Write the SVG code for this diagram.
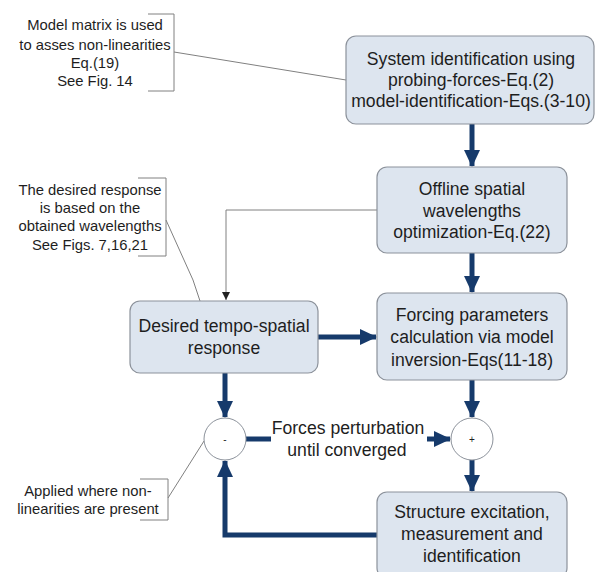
<svg xmlns="http://www.w3.org/2000/svg" width="595" height="572" viewBox="0 0 595 572">
<style>
.box{fill:#dde5ef;stroke:#8c929b;stroke-width:1.2}
.bt{font-family:"Liberation Sans",Arial,sans-serif;font-size:17.6px;fill:#1e1e1e;text-anchor:middle}
.ct{font-family:"Liberation Sans",Arial,sans-serif;font-size:14.8px;fill:#1e1e1e;text-anchor:middle}
.thick{stroke:#163a6b;stroke-width:5;fill:none}
.thin{stroke:#808080;stroke-width:1;fill:none}
.circ{fill:#ffffff;stroke:#8c929b;stroke-width:1}
</style>
<defs>
<marker id="ah" viewBox="0 0 17 16" refX="16" refY="8" markerWidth="17" markerHeight="16" markerUnits="userSpaceOnUse" orient="auto">
<path d="M0,0 L17,8 L0,16 Z" fill="#163a6b"/>
</marker>
<marker id="ta" viewBox="0 0 8 8" refX="8" refY="4" markerWidth="8" markerHeight="8" markerUnits="userSpaceOnUse" orient="auto">
<path d="M0,0 L8,4 L0,8 Z" fill="#222"/>
</marker>
</defs>

<g id="connectors">
<line class="thick" x1="472" y1="124" x2="472" y2="166" marker-end="url(#ah)"/>
<line class="thick" x1="472" y1="253" x2="472" y2="292" marker-end="url(#ah)"/>
<line class="thick" x1="472" y1="380" x2="472" y2="417" marker-end="url(#ah)"/>
<line class="thick" x1="472" y1="460" x2="472" y2="491" marker-end="url(#ah)"/>
<line class="thick" x1="318" y1="337" x2="376" y2="337" marker-end="url(#ah)"/>
<line class="thick" x1="225" y1="373" x2="225" y2="417" marker-end="url(#ah)"/>
<line class="thick" x1="246" y1="439" x2="271" y2="439"/>
<line class="thick" x1="427" y1="439" x2="450" y2="439" marker-end="url(#ah)"/>
<polyline class="thick" points="377,535 225,535 225,461" marker-end="url(#ah)"/>
<polyline class="thin" points="377,210 226,210 226,300" marker-end="url(#ta)"/>
<line class="thin" x1="174" y1="52" x2="346" y2="80"/>
<polyline class="thin" points="166,220 193,280 200,301"/>
<line class="thin" x1="168" y1="498" x2="204" y2="441"/>
</g>

<g id="note-model">
<polyline class="thin" points="148,14 174,14 174,91 148,91"/>
<text class="ct" x="95" y="30">Model matrix is used</text>
<text class="ct" x="95" y="50">to asses non-linearities</text>
<text class="ct" x="95" y="68">Eq.(19)</text>
<text class="ct" x="95" y="86">See Fig. 14</text>
</g>

<g id="note-desired">
<polyline class="thin" points="138,178 166,178 166,256 138,256"/>
<text class="ct" x="90" y="195">The desired response</text>
<text class="ct" x="90" y="213">is based on the</text>
<text class="ct" x="90" y="231">obtained wavelengths</text>
<text class="ct" x="90" y="250">See Figs. 7,16,21</text>
</g>

<g id="note-applied">
<polyline class="thin" points="140,479 168,479 168,520 140,520"/>
<text class="ct" x="88" y="496">Applied where non-</text>
<text class="ct" x="88" y="514">linearities are present</text>
</g>

<g id="sysid">
<rect class="box" x="346" y="36" width="248" height="88" rx="10"/>
<text class="bt" x="471" y="65">System identification using</text>
<text class="bt" x="471" y="86">probing-forces-Eq.(2)</text>
<text class="bt" x="471" y="107">model-identification-Eqs.(3-10)</text>
</g>

<g id="offline">
<rect class="box" x="377" y="167" width="190" height="86" rx="10"/>
<text class="bt" x="472" y="195">Offline spatial</text>
<text class="bt" x="472" y="217">wavelengths</text>
<text class="bt" x="472" y="238">optimization-Eq.(22)</text>
</g>

<g id="desired">
<rect class="box" x="130" y="301" width="188" height="72" rx="10"/>
<text class="bt" x="224" y="332">Desired tempo-spatial</text>
<text class="bt" x="224" y="354">response</text>
</g>

<g id="forcing">
<rect class="box" x="377" y="293" width="190" height="87" rx="10"/>
<text class="bt" x="472" y="321">Forcing parameters</text>
<text class="bt" x="472" y="343">calculation via model</text>
<text class="bt" x="472" y="366">inversion-Eqs(11-18)</text>
</g>

<g id="minus">
<circle class="circ" cx="225" cy="439" r="21"/>
<text class="ct" x="225" y="443" style="font-size:10px">-</text>
</g>

<g id="plus">
<circle class="circ" cx="472" cy="439" r="21"/>
<text class="ct" x="472" y="443" style="font-size:10px">+</text>
</g>

<g id="perturb-label">
<text class="bt" x="348" y="434">Forces perturbation</text>
<text class="bt" x="347" y="456">until converged</text>
</g>

<g id="structure">
<rect class="box" x="377" y="492" width="190" height="86" rx="10"/>
<text class="bt" x="472" y="518">Structure excitation,</text>
<text class="bt" x="472" y="540">measurement and</text>
<text class="bt" x="472" y="562">identification</text>
</g>
</svg>
